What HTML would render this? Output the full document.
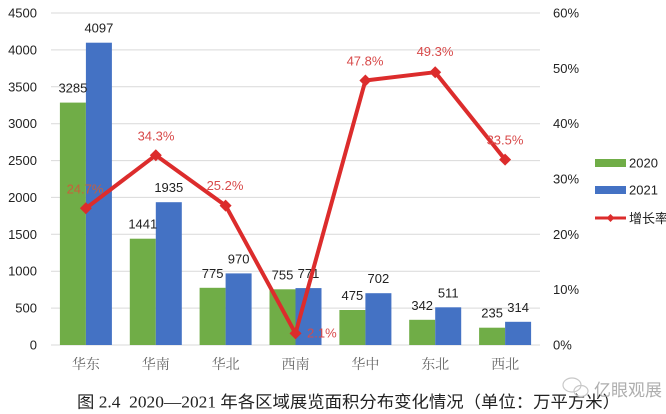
<!DOCTYPE html>
<html><head><meta charset="utf-8"><style>
html,body{margin:0;padding:0;background:#fff;}
svg{display:block;}
</style></head><body>
<svg width="666" height="414" viewBox="0 0 666 414" xmlns="http://www.w3.org/2000/svg">
<rect width="666" height="414" fill="#fff"/>
<g stroke="#d9d9d9" stroke-width="1">
<line x1="51" x2="540" y1="345" y2="345"/>
<line x1="51" x2="540" y1="308.1" y2="308.1"/>
<line x1="51" x2="540" y1="271.2" y2="271.2"/>
<line x1="51" x2="540" y1="234.3" y2="234.3"/>
<line x1="51" x2="540" y1="197.4" y2="197.4"/>
<line x1="51" x2="540" y1="160.6" y2="160.6"/>
<line x1="51" x2="540" y1="123.7" y2="123.7"/>
<line x1="51" x2="540" y1="86.8" y2="86.8"/>
<line x1="51" x2="540" y1="49.9" y2="49.9"/>
<line x1="51" x2="540" y1="13" y2="13"/>
</g>
<g font-family="Liberation Sans, sans-serif" font-size="13" fill="#222" text-anchor="end">
<text x="37" y="349.5">0</text>
<text x="37" y="312.6">500</text>
<text x="37" y="275.7">1000</text>
<text x="37" y="238.8">1500</text>
<text x="37" y="201.9">2000</text>
<text x="37" y="165.1">2500</text>
<text x="37" y="128.2">3000</text>
<text x="37" y="91.3">3500</text>
<text x="37" y="54.4">4000</text>
<text x="37" y="17.5">4500</text>
</g>
<g font-family="Liberation Sans, sans-serif" font-size="13" fill="#222">
<text x="553" y="349.5">0%</text>
<text x="553" y="294.2">10%</text>
<text x="553" y="238.8">20%</text>
<text x="553" y="183.5">30%</text>
<text x="553" y="128.2">40%</text>
<text x="553" y="72.8">50%</text>
<text x="553" y="17.5">60%</text>
</g>
<g fill="#70ad47">
<rect x="59.9" y="102.6" width="26" height="242.4"/>
<rect x="129.8" y="238.7" width="26" height="106.3"/>
<rect x="199.6" y="287.8" width="26" height="57.2"/>
<rect x="269.5" y="289.3" width="26" height="55.7"/>
<rect x="339.4" y="310.0" width="26" height="35.0"/>
<rect x="409.2" y="319.8" width="26" height="25.2"/>
<rect x="479.1" y="327.7" width="26" height="17.3"/>
</g>
<g fill="#4472c4">
<rect x="85.9" y="42.7" width="26" height="302.3"/>
<rect x="155.8" y="202.2" width="26" height="142.8"/>
<rect x="225.6" y="273.4" width="26" height="71.6"/>
<rect x="295.5" y="288.1" width="26" height="56.9"/>
<rect x="365.4" y="293.2" width="26" height="51.8"/>
<rect x="435.2" y="307.3" width="26" height="37.7"/>
<rect x="505.1" y="321.8" width="26" height="23.2"/>
</g>
<g font-family="Liberation Sans, sans-serif" font-size="13" fill="#222" text-anchor="middle">
<text x="72.9" y="92.6">3285</text>
<text x="98.9" y="32.7">4097</text>
<text x="142.8" y="228.7">1441</text>
<text x="168.8" y="192.2">1935</text>
<text x="212.6" y="277.8">775</text>
<text x="238.6" y="263.4">970</text>
<text x="282.5" y="279.3">755</text>
<text x="308.5" y="278.1">771</text>
<text x="352.4" y="300.0">475</text>
<text x="378.4" y="283.2">702</text>
<text x="422.2" y="309.8">342</text>
<text x="448.2" y="297.3">511</text>
<text x="492.1" y="317.7">235</text>
<text x="518.1" y="311.8">314</text>
</g>
<polyline fill="none" stroke="#dc2c2c" stroke-width="4" stroke-linejoin="round"
 points="85.9,208.3 155.8,155.2 225.6,205.6 295.5,333.4 365.4,80.5 435.2,72.2 505.1,159.6"/>
<g fill="#dc2c2c">
<path d="M85.9,202.3 L91.9,208.3 L85.9,214.3 L79.9,208.3Z"/>
<path d="M155.8,149.2 L161.8,155.2 L155.8,161.2 L149.8,155.2Z"/>
<path d="M225.6,199.6 L231.6,205.6 L225.6,211.6 L219.6,205.6Z"/>
<path d="M295.5,327.4 L301.5,333.4 L295.5,339.4 L289.5,333.4Z"/>
<path d="M365.4,74.5 L371.4,80.5 L365.4,86.5 L359.4,80.5Z"/>
<path d="M435.2,66.2 L441.2,72.2 L435.2,78.2 L429.2,72.2Z"/>
<path d="M505.1,153.6 L511.1,159.6 L505.1,165.6 L499.1,159.6Z"/>
</g>
<g font-family="Liberation Sans, sans-serif" font-size="13" fill="#d84a4a" text-anchor="middle">
<text x="85" y="193.5" fill="#c8603a">24.7%</text>
<text x="156" y="140.5">34.3%</text>
<text x="225" y="190">25.2%</text>
<text x="307" y="337.5" text-anchor="start">2.1%</text>
<text x="365" y="65.5">47.8%</text>
<text x="435" y="56">49.3%</text>
<text x="505" y="144.5">33.5%</text>
</g>
<g font-family="'Noto Serif CJK SC', serif" font-size="14" fill="#666" text-anchor="middle">
<text x="85.9" y="369">华东</text>
<text x="155.8" y="369">华南</text>
<text x="225.6" y="369">华北</text>
<text x="295.5" y="369">西南</text>
<text x="365.4" y="369">华中</text>
<text x="435.2" y="369">东北</text>
<text x="505.1" y="369">西北</text>
</g>
<rect x="595" y="159" width="31" height="8" fill="#70ad47"/>
<rect x="595" y="186" width="31" height="8" fill="#4472c4"/>
<line x1="595" x2="626" y1="218" y2="218" stroke="#dc2c2c" stroke-width="3"/>
<path d="M610.5,214 L614.5,218 L610.5,222 L606.5,218Z" fill="#dc2c2c"/>
<g font-family="Liberation Sans, 'Noto Sans CJK SC', sans-serif" font-size="13" fill="#222">
<text x="629" y="167.5">2020</text>
<text x="629" y="194.5">2021</text>
<text x="629" y="223">增长率</text>
</g>
<text x="77" y="407.5" font-family="Liberation Serif, 'Noto Sans CJK SC', sans-serif" font-size="16.5" fill="#222" textLength="543" lengthAdjust="spacingAndGlyphs">图&#160;2.4&#160;&#160;2020—2021&#160;年各区域展览面积分布变化情况（单位：万平方米）</text>
<g fill="none" stroke="#c8c8c8" stroke-width="1.2">
<ellipse cx="572" cy="385" rx="9" ry="7"/>
<ellipse cx="581" cy="391" rx="7" ry="5.5"/>
</g>
<text x="594" y="396" font-family="'Noto Sans CJK SC', sans-serif" font-size="17" fill="#a0a0a0" fill-opacity="0.85">亿眼观展</text>
</svg>
</body></html>
